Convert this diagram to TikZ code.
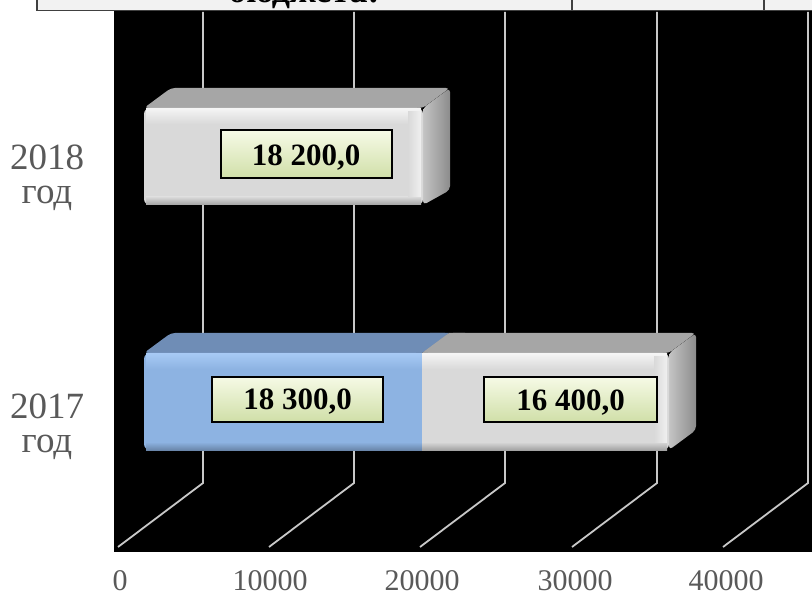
\documentclass[tikz,border=0pt]{standalone}
\usepackage{fontspec}
\setmainfont{Liberation Serif}
\definecolor{barblue}{HTML}{8DB3E2}
\definecolor{barbluetop}{HTML}{6F8DB6}
\definecolor{barbluelight}{HTML}{A6C9F4}
\definecolor{bargray}{HTML}{D9D9D9}
\definecolor{bargraytop}{HTML}{A6A6A6}
\definecolor{sidelight}{HTML}{C4C4C4}
\definecolor{sidedark}{HTML}{8C8C8C}
\definecolor{gridc}{HTML}{C8C8C8}
\definecolor{txtgray}{HTML}{595959}
\definecolor{lblTop}{HTML}{F6FAE6}
\definecolor{lblBot}{HTML}{D0DFA8}
\definecolor{tablefill}{HTML}{F2F2F2}
\definecolor{tableline}{HTML}{404040}
\begin{document}
\begin{tikzpicture}[x=1pt,y=-1pt,
  gridline/.style={gridc,line width=1.8pt},
  lbl/.style={draw=black,line width=2pt,inner sep=0pt,minimum width=171pt,
    top color=lblTop,bottom color=lblBot,
    font=\bfseries\fontsize{31}{31}\selectfont,text height=21.3pt,text depth=0pt},
  yearlbl/.style={anchor=base,inner sep=0pt,text=txtgray,font=\fontsize{37}{37}\selectfont},
  ticklbl/.style={anchor=base,inner sep=0pt,text depth=0pt,text=txtgray,font=\fontsize{30}{30}\selectfont},
  sideface/.style={left color=sidelight,right color=sidedark}
]
\useasboundingbox (0,0) rectangle (812,596);
\fill[white] (0,0) rectangle (812,596);
% chart background
\fill[black] (114,11) rectangle (812,552);
% table strip at top
\begin{scope}
  \clip (0,0) rectangle (812,596);
  \fill[tablefill] (37,-5) rectangle (812,10);
  \node[anchor=base,font=\bfseries\fontsize{36}{36}\selectfont] (hdr) at (304,2.5) {бюджета:};
  \draw[tableline,line width=1.6pt] (37,-5) -- (37,10.5) -- (812,10.5);
  \draw[tableline,line width=1.6pt] (572,-5) -- (572,10.5);
  \draw[tableline,line width=1.6pt] (764,-5) -- (764,10.5);
\end{scope}
% gridlines (back wall + floor)
\foreach \gx in {203,354,505,657,808}
  \draw[gridline] (\gx,12) -- (\gx,483) -- ({\gx-85},547);

% ---------------- bar 2018 (gray) ----------------
\fill[bargraytop,rounded corners=4pt] (144,108) -- (171,88) -- (450,88) -- (423,108) -- cycle;
\fill[sideface,rounded corners=4pt] (423,108) -- (450,88) -- (450,190) -- (423,205) -- cycle;
\fill[bargray,rounded corners=6pt] (144,108) rectangle (423,205);
\fill[top color=white!70!bargray,bottom color=bargray] (146,109) rectangle (421,124);
\fill[top color=bargray,bottom color=bargray!75!black] (146,197) rectangle (421,205);
\fill[left color=bargray,right color=white!60!bargray] (408,112) rectangle (421,197);

% ---------------- bar 2017 (blue + gray) ----------------
\fill[barbluetop,rounded corners=4pt] (144,353) -- (171,333) -- (449,333) -- (422,353) -- cycle;
\fill[bargraytop,rounded corners=4pt] (422,353) -- (449,333) -- (696,333) -- (669,353) -- cycle;
\fill[barbluetop] (430,333) -- (449,333) -- (422,353) -- (405,353) -- cycle;
\fill[bargraytop] (449,333) -- (465,333) -- (438,353) -- (422,353) -- cycle;
\fill[sideface,rounded corners=4pt] (669,353) -- (696,333) -- (696,430) -- (669,450) -- cycle;
\fill[barblue,rounded corners=6pt] (144,353) -- (422,353) -- (422,450) -- (144,450) -- cycle;
\fill[bargray,rounded corners=6pt] (422,353) -- (669,353) -- (669,450) -- (422,450) -- cycle;
\fill[barblue] (410,353) rectangle (422,450);
\fill[bargray] (422,353) rectangle (434,450);
\fill[top color=barbluelight,bottom color=barblue] (146,354) rectangle (422,369);
\fill[top color=white!70!bargray,bottom color=bargray] (422,354) rectangle (667,369);
\fill[top color=barblue,bottom color=barblue!75!black] (146,442) rectangle (422,450);
\fill[top color=bargray,bottom color=bargray!75!black] (422,442) rectangle (667,450);
\fill[left color=bargray,right color=white!60!bargray] (654,357) rectangle (667,442);

% ---------------- value labels ----------------
\node[lbl,minimum height=48pt] (v2018) at (306,154.5) {18 200,0};
\node[lbl,minimum height=45pt] (v2017a) at (297.5,399) {18 300,0};
\node[lbl,minimum height=45pt,minimum width=173pt] (v2017b) at (570.5,399.5) {16 400,0};

% ---------------- category labels ----------------
\node[yearlbl] (y18) at (47,170) {2018};
\node[yearlbl] (y18g) at (47,204) {год};
\node[yearlbl] (y17) at (47,418) {2017};
\node[yearlbl] (y17g) at (47,452) {год};

% ---------------- axis labels ----------------
\node[ticklbl] (t0) at (120,590) {0};
\node[ticklbl] (t1) at (270,590) {10000};
\node[ticklbl] (t2) at (422,590) {20000};
\node[ticklbl] (t3) at (575,590) {30000};
\node[ticklbl] (t4) at (726,590) {40000};
\end{tikzpicture}
\end{document}
